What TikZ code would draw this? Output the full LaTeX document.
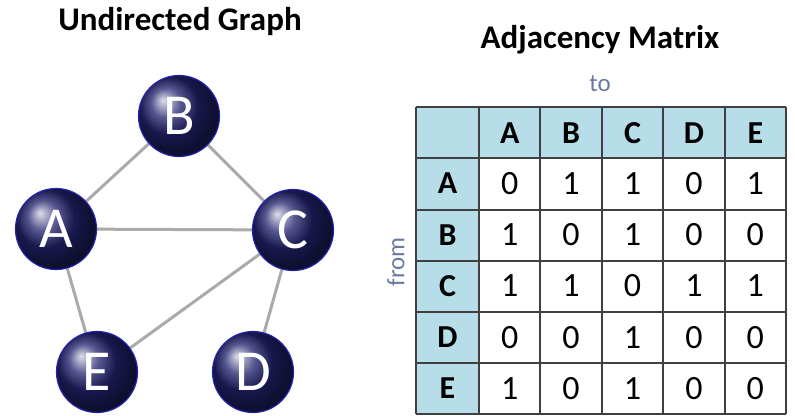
\documentclass[tikz,border=0pt]{standalone}
\usepackage{fontspec}
\setmainfont{Carlito}
\usetikzlibrary{positioning,backgrounds}

\definecolor{ballblue}{RGB}{34,34,110}
\definecolor{rimblue}{RGB}{35,35,175}
\definecolor{headblue}{RGB}{183,221,232}
\definecolor{labelgray}{RGB}{105,122,160}
\definecolor{edgegray}{RGB}{170,170,170}

\begin{document}
\begin{tikzpicture}[x=1pt,y=-1pt,
    vertex/.style={circle, minimum size=81pt, inner sep=0pt, ball color=ballblue,
      draw=rimblue, line width=1.2pt, text=white, font=\fontsize{58}{58}\selectfont},
    edge/.style={draw=edgegray, line width=3pt},
    title/.style={font=\bfseries\fontsize{33}{33}\selectfont},
    axis label/.style={text=labelgray, font=\fontsize{25}{25}\selectfont},
    head/.style={font=\bfseries\fontsize{32}{32}\selectfont},
    entry/.style={font=\fontsize{34}{34}\selectfont},
    grid line/.style={draw=black!75, line width=1.1pt}]
  \useasboundingbox (0,0) rectangle (795,415);

  % graph
  \node[vertex] (B) at (179,116) {B};
  \node[vertex] (A) at (56,229) {A};
  \node[vertex] (C) at (293,230) {C};
  \node[vertex] (E) at (97,372) {E};
  \node[vertex] (D) at (253,372) {D};
  \begin{scope}[on background layer]
    \foreach \u/\v in {A/B, B/C, A/C, A/E, C/E, C/D}
      \draw[edge] (\u) -- (\v);
  \end{scope}
  \node[title] (gtitle) at (180,22) {Undirected Graph};

  % matrix
  \node[title] (mtitle) at (600,40) {Adjacency Matrix};
  \node[axis label] (to) at (600,84) {to};
  \node[axis label, rotate=90] (from) at (396,262) {from};

  \fill[headblue] (416,107) rectangle (786,158);
  \fill[headblue] (416,158) rectangle (479,414);
  \foreach \x in {416,479,540,602,663,725,786}
    \draw[grid line] (\x,107) -- (\x,414);
  \foreach \y in {107,158,210,261,312,363,414}
    \draw[grid line] (416,\y) -- (786,\y);

  \foreach \l [count=\i] in {A,B,C,D,E} {
    \node[head] (col\l) at (479+61.4*\i-30.7,133) {\l};
    \node[head] (row\l) at (447.5,158+51.2*\i-25.6) {\l};
  }
  \foreach \r/\vals [count=\i] in {A/{0,1,1,0,1}, B/{1,0,1,0,0},
      C/{1,1,0,1,1}, D/{0,0,1,0,0}, E/{1,0,1,0,0}}
    \foreach \v [count=\j] in \vals
      \node[entry] (\r\j) at (479+61.4*\j-30.7,158+51.2*\i-25.6) {\v};
\end{tikzpicture}
\end{document}
